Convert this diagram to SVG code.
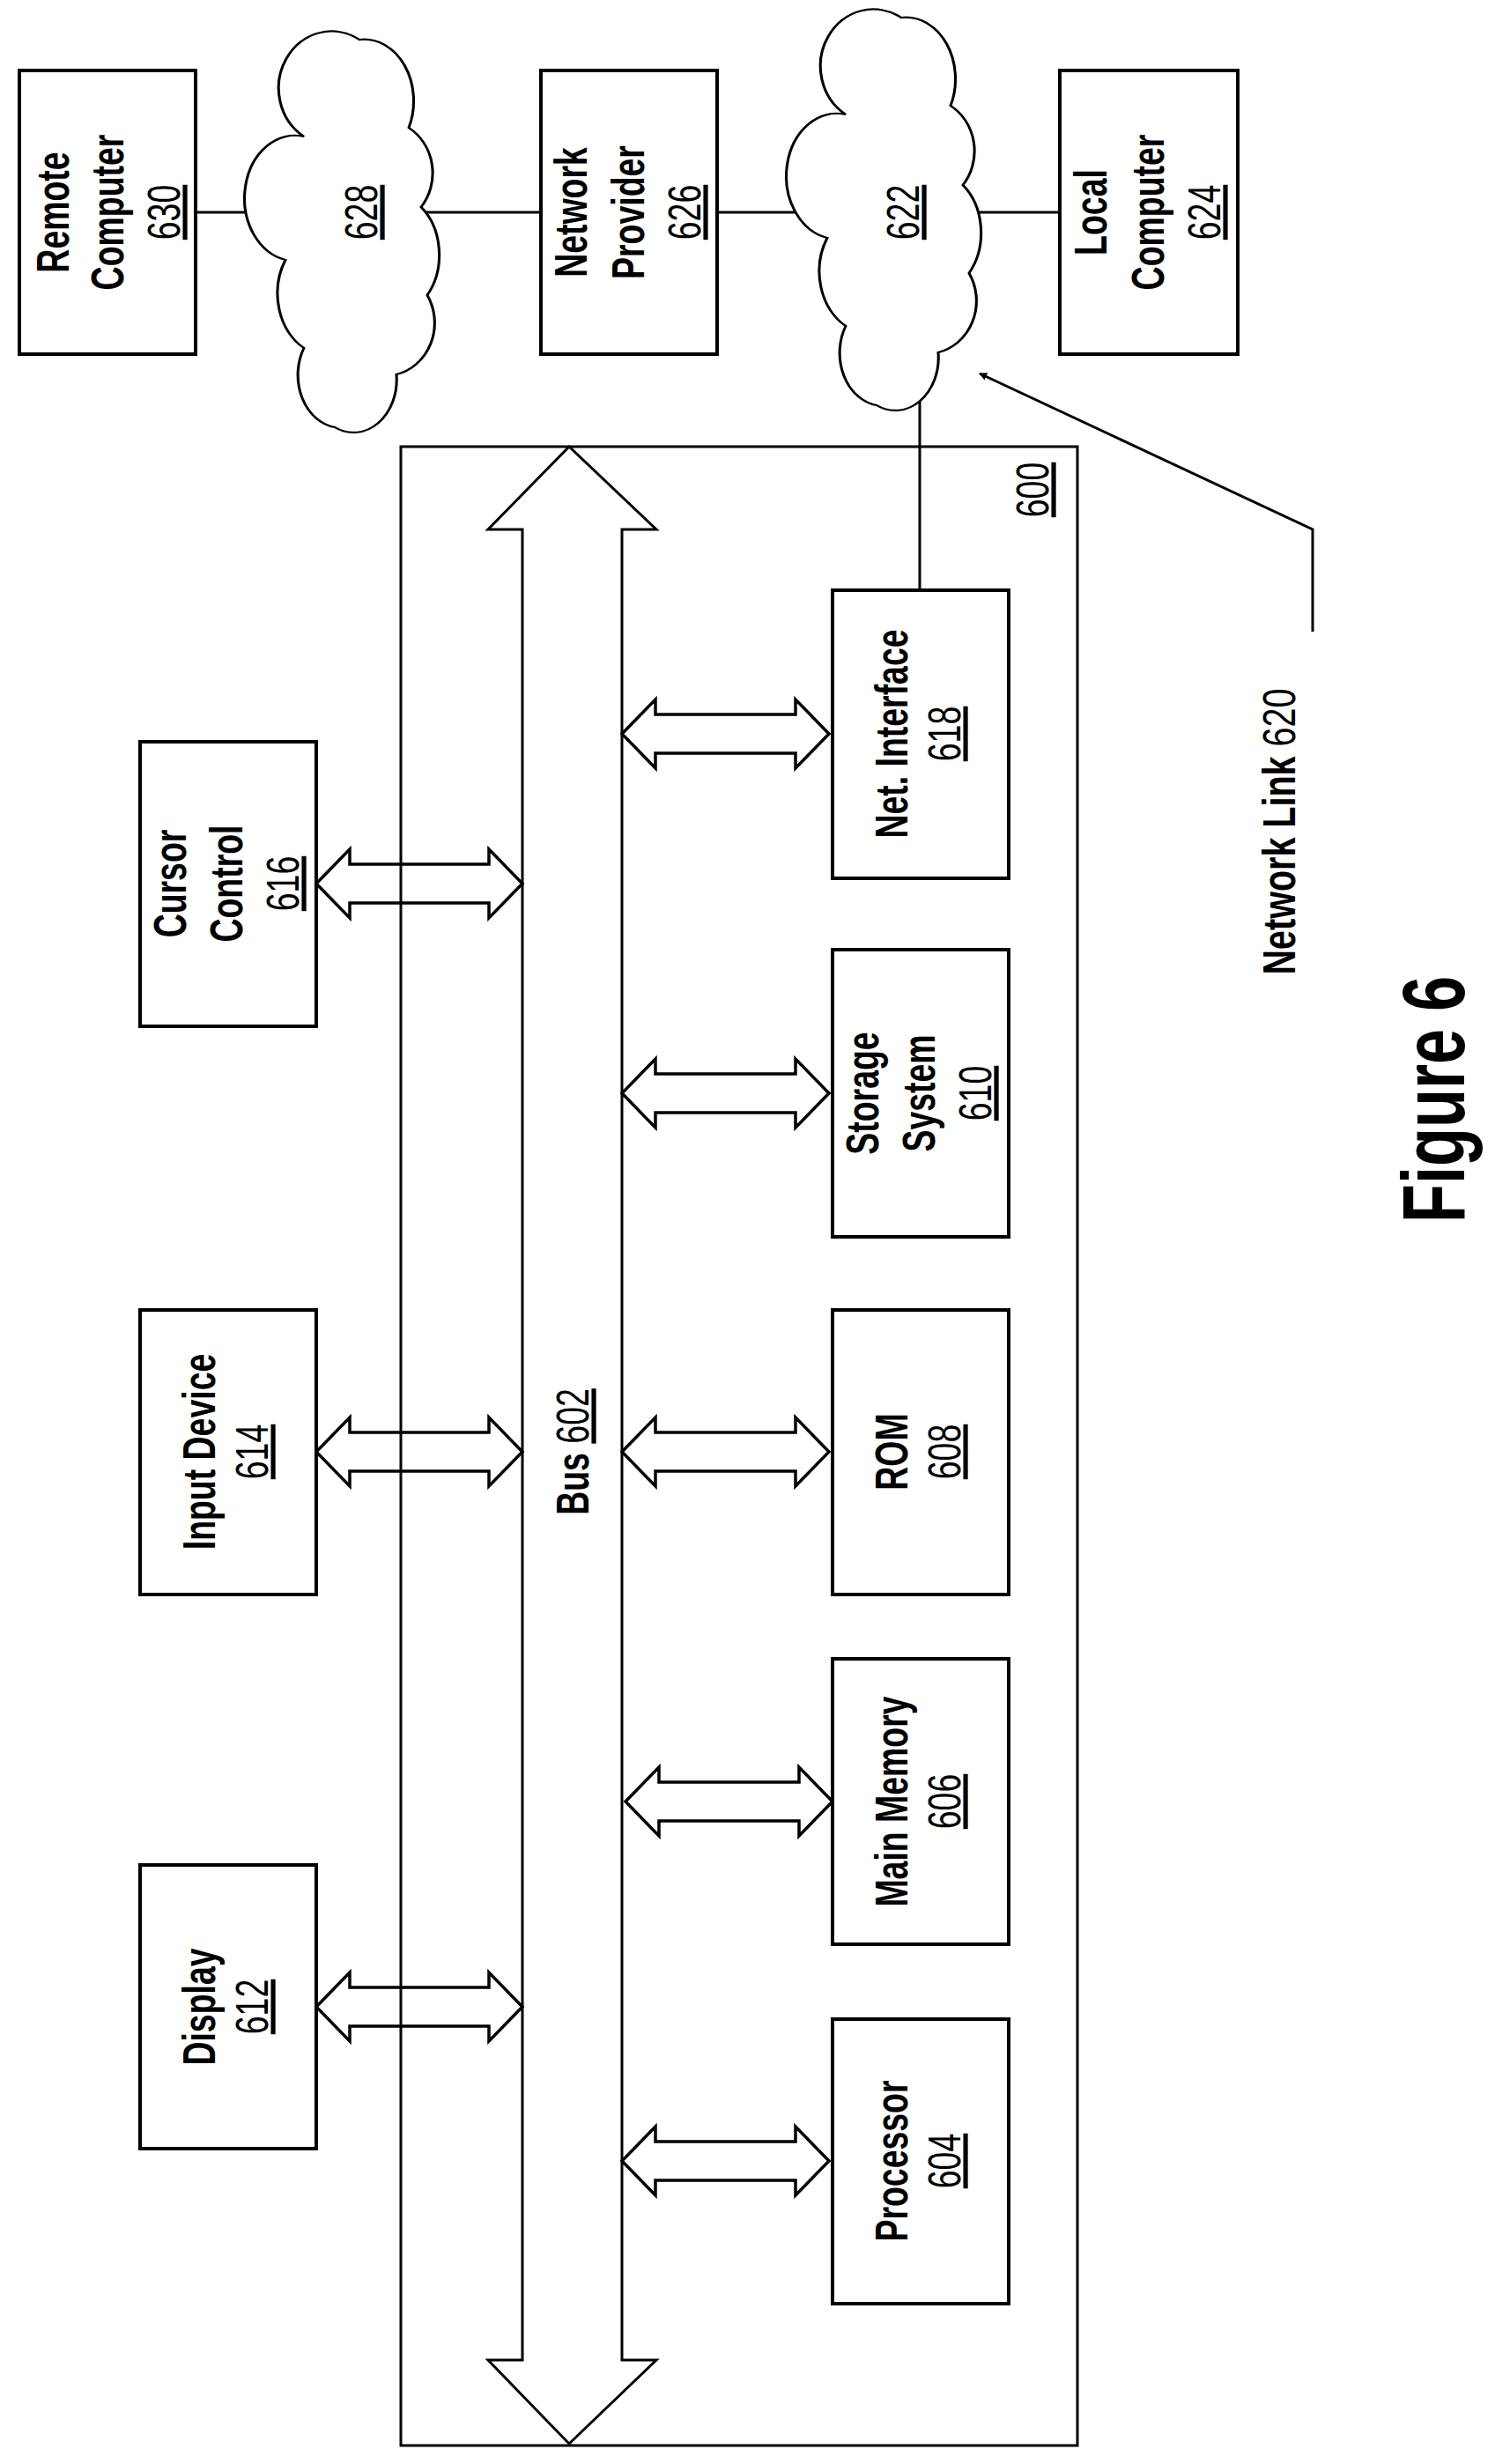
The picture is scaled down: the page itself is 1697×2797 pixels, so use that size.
<svg xmlns="http://www.w3.org/2000/svg" width="1697" height="2797" viewBox="0 0 1697 2797">
<style>
.box{fill:#fff;stroke:#000;stroke-width:4}
.ln{fill:none;stroke:#000;stroke-width:3}
.dbl{fill:none;stroke:#000;stroke-width:3.5}
.cloud{fill:#fff;stroke:#000;stroke-width:3}
text{font-family:"Liberation Sans",Arial,sans-serif;font-size:52px;fill:#000}
.b{font-weight:bold}
.u{text-decoration:underline}
</style>
<defs>
<marker id="ah" viewBox="0 0 10 10" refX="9" refY="5" markerWidth="9" markerHeight="9" markerUnits="userSpaceOnUse" orient="auto"><path d="M0,0 L10,5 L0,10 Z"/></marker>
<path id="cl" d="M -45,-110 A 40 60 0 0 1 0,-220 A 40 70 0 0 1 40,-120 A 40 60 0 0 1 50,-30 A 40 70 0 0 1 55,70 A 40 60 0 0 1 30,160 A 35 60 0 0 1 -20,220 A 35 60 0 0 1 -45,130 A 40 70 0 0 1 -60,30 A 40 70 0 0 1 -45,-110 Z"/>
</defs>
<g id="connectors">
<line class="ln" x1="222" y1="241" x2="614" y2="241"/>
<line class="ln" x1="814" y1="241" x2="1203" y2="241"/>
<line class="ln" x1="1044" y1="400" x2="1044" y2="670"/>
<polyline class="ln" points="1490,717 1490,601 1112,424" marker-end="url(#ah)"/>
</g>
<g id="n628"><use href="#cl" class="cloud" transform="translate(408,265) scale(1.4,1)" vector-effect="non-scaling-stroke" style="stroke-width:2.2"/>
<text transform="translate(408,241) rotate(-90) scale(0.72,1)" text-anchor="middle"><tspan class="u" x="0" y="20">628</tspan></text></g>
<g id="n622"><use href="#cl" class="cloud" transform="translate(1023,240) scale(1.4,1)" style="stroke-width:2.2"/>
<text transform="translate(1023,241) rotate(-90) scale(0.72,1)" text-anchor="middle"><tspan class="u" x="0" y="20">622</tspan></text></g>
<g id="n630"><rect class="box" x="22" y="80" width="200" height="322"/>
<text transform="translate(122,241) rotate(-90) scale(0.72,1)" text-anchor="middle"><tspan class="b" x="0" y="-44">Remote</tspan><tspan class="b" x="0" y="18">Computer</tspan><tspan class="u" x="0" y="82">630</tspan></text></g>
<g id="n626"><rect class="box" x="614" y="80" width="200" height="322"/>
<text transform="translate(714,241) rotate(-90) scale(0.72,1)" text-anchor="middle"><tspan class="b" x="0" y="-48">Network</tspan><tspan class="b" x="0" y="17">Provider</tspan><tspan class="u" x="0" y="81">626</tspan></text></g>
<g id="n624"><rect class="box" x="1203" y="80" width="202" height="322"/>
<text transform="translate(1304,241) rotate(-90) scale(0.72,1)" text-anchor="middle"><tspan class="b" x="0" y="-48">Local</tspan><tspan class="b" x="0" y="17">Computer</tspan><tspan class="u" x="0" y="81">624</tspan></text></g>
<g id="n600"><rect class="ln" x="455" y="507" width="768" height="2269"/>
<text transform="translate(1190,556) rotate(-90) scale(0.72,1)" text-anchor="middle"><tspan class="u" x="0" y="0">600</tspan></text></g>
<g id="n602"><polygon class="box" style="stroke-width:3" points="646,507 745,601 706,601 706,2679 745,2679 646,2774 554,2679 593,2679 593,601 554,601"/>
<text transform="translate(668,1648) rotate(-90) scale(0.72,1)" text-anchor="middle"><tspan class="b">Bus </tspan><tspan class="u">602</tspan></text></g>
<g id="arrows">
<polygon class="dbl" points="359,1003 397,964 397,981 555,981 555,964 593,1003 555,1042 555,1025 397,1025 397,1042"/>
<polygon class="dbl" points="359,1648 397,1609 397,1626 555,1626 555,1609 593,1648 555,1687 555,1670 397,1670 397,1687"/>
<polygon class="dbl" points="359,2278 397,2239 397,2256 555,2256 555,2239 593,2278 555,2317 555,2300 397,2300 397,2317"/>
<polygon class="dbl" points="706,833 744,794 744,811 903,811 903,794 941,833 903,872 903,855 744,855 744,872"/>
<polygon class="dbl" points="706,1241 744,1202 744,1219 903,1219 903,1202 941,1241 903,1280 903,1263 744,1263 744,1280"/>
<polygon class="dbl" points="706,1648 744,1609 744,1626 903,1626 903,1609 941,1648 903,1687 903,1670 744,1670 744,1687"/>
<polygon class="dbl" points="710,2045 748,2006 748,2023 907,2023 907,2006 945,2045 907,2084 907,2067 748,2067 748,2084"/>
<polygon class="dbl" points="706,2453 744,2414 744,2431 903,2431 903,2414 941,2453 903,2492 903,2475 744,2475 744,2492"/>
</g>
<g id="n616"><rect class="box" x="159" y="842" width="200" height="323"/>
<text transform="translate(259,1003) rotate(-90) scale(0.72,1)" text-anchor="middle"><tspan class="b" x="0" y="-48">Cursor</tspan><tspan class="b" x="0" y="16">Control</tspan><tspan class="u" x="0" y="80">616</tspan></text></g>
<g id="n614"><rect class="box" x="159" y="1487" width="200" height="323"/>
<text transform="translate(259,1648) rotate(-90) scale(0.72,1)" text-anchor="middle"><tspan class="b" x="0" y="-15">Input Device</tspan><tspan class="u" x="0" y="45">614</tspan></text></g>
<g id="n612"><rect class="box" x="159" y="2117" width="200" height="322"/>
<text transform="translate(259,2278) rotate(-90) scale(0.72,1)" text-anchor="middle"><tspan class="b" x="0" y="-15">Display</tspan><tspan class="u" x="0" y="45">612</tspan></text></g>
<g id="n618"><rect class="box" x="945" y="670" width="200" height="327"/>
<text transform="translate(1045,833) rotate(-90) scale(0.72,1)" text-anchor="middle"><tspan class="b" x="0" y="-15">Net. Interface</tspan><tspan class="u" x="0" y="45">618</tspan></text></g>
<g id="n610"><rect class="box" x="945" y="1078" width="200" height="326"/>
<text transform="translate(1045,1241) rotate(-90) scale(0.72,1)" text-anchor="middle"><tspan class="b" x="0" y="-48">Storage</tspan><tspan class="b" x="0" y="16">System</tspan><tspan class="u" x="0" y="80">610</tspan></text></g>
<g id="n608"><rect class="box" x="945" y="1487" width="200" height="323"/>
<text transform="translate(1045,1648) rotate(-90) scale(0.72,1)" text-anchor="middle"><tspan class="b" x="0" y="-15">ROM</tspan><tspan class="u" x="0" y="45">608</tspan></text></g>
<g id="n606"><rect class="box" x="945" y="1883" width="200" height="324"/>
<text transform="translate(1045,2045) rotate(-90) scale(0.72,1)" text-anchor="middle"><tspan class="b" x="0" y="-15">Main Memory</tspan><tspan class="u" x="0" y="45">606</tspan></text></g>
<g id="n604"><rect class="box" x="945" y="2292" width="200" height="323"/>
<text transform="translate(1045,2453) rotate(-90) scale(0.72,1)" text-anchor="middle"><tspan class="b" x="0" y="-15">Processor</tspan><tspan class="u" x="0" y="45">604</tspan></text></g>
<g id="n620"><text transform="translate(1470,944) rotate(-90) scale(0.76,1)" text-anchor="middle"><tspan class="b">Network Link </tspan><tspan>620</tspan></text></g>
<text transform="translate(1662,1248) rotate(-90) scale(0.72,1)" text-anchor="middle" class="b" style="font-size:100px">Figure 6</text>
</svg>
